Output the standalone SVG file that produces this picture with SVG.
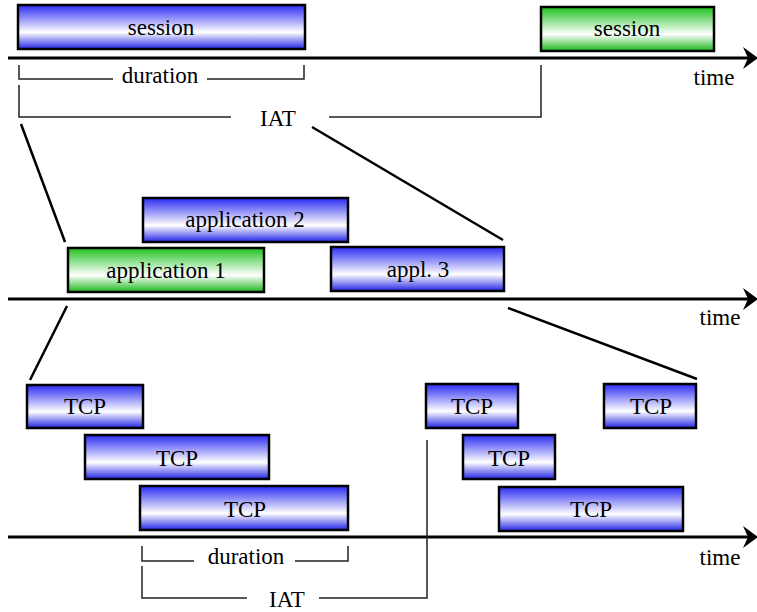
<svg xmlns="http://www.w3.org/2000/svg" width="757" height="612" viewBox="0 0 757 612" font-family="'Liberation Serif', 'DejaVu Serif', serif">
  <defs>
    <linearGradient id="gBlue" x1="0" y1="0" x2="0" y2="1">
      <stop offset="0" stop-color="#2b2bf2"/>
      <stop offset="0.62" stop-color="#ffffff"/>
      <stop offset="1" stop-color="#2424e6"/>
    </linearGradient>
    <linearGradient id="gGreen" x1="0" y1="0" x2="0" y2="1">
      <stop offset="0" stop-color="#1fc21f"/>
      <stop offset="0.62" stop-color="#ffffff"/>
      <stop offset="1" stop-color="#1ab81a"/>
    </linearGradient>
    <path id="arrowHead" d="M-15,-11 L0,0 L-15,11 L-10,0 Z" fill="#000"/>
  </defs>
  <style>
    .box { stroke: #000; stroke-width: 2.5; }
    .blue { fill: url(#gBlue); }
    .green { fill: url(#gGreen); }
    .lbl { font-family: 'Liberation Serif', 'DejaVu Serif', serif; font-size: 23px; fill: #000; text-anchor: middle; }
    .axis { stroke: #000; stroke-width: 3; fill: none; }
    .bracket { stroke: #222; stroke-width: 1.5; fill: none; }
    .zoomline { stroke: #000; stroke-width: 2.5; fill: none; }
  </style>

  <rect width="757" height="612" fill="#fff"/>

  <!-- time axes -->
  <g id="axes">
    <line class="axis" x1="8" y1="58" x2="748" y2="58"/>
    <use href="#arrowHead" x="758" y="58"/>
    <text class="lbl" x="714" y="85">time</text>

    <line class="axis" x1="8" y1="299" x2="748" y2="299"/>
    <use href="#arrowHead" x="758" y="299"/>
    <text class="lbl" x="720" y="325">time</text>

    <line class="axis" x1="8" y1="537" x2="748" y2="537"/>
    <use href="#arrowHead" x="758" y="537"/>
    <text class="lbl" x="720" y="565">time</text>
  </g>

  <!-- session level -->
  <g id="session1">
    <rect class="box blue" x="18" y="5" width="287" height="44"/>
    <text class="lbl" x="161" y="35">session</text>
  </g>
  <g id="session2">
    <rect class="box green" x="541" y="7" width="173" height="44"/>
    <text class="lbl" x="627" y="36">session</text>
  </g>

  <!-- application level -->
  <g id="app2">
    <rect class="box blue" x="143" y="198" width="205" height="44"/>
    <text class="lbl" x="245" y="227">application 2</text>
  </g>
  <g id="app1">
    <rect class="box green" x="68" y="248" width="196" height="44"/>
    <text class="lbl" x="166" y="278">application 1</text>
  </g>
  <g id="app3">
    <rect class="box blue" x="331" y="247" width="173" height="44"/>
    <text class="lbl" x="418" y="277">appl. 3</text>
  </g>

  <!-- TCP level -->
  <g id="tcp1">
    <rect class="box blue" x="27" y="385" width="116" height="43"/>
    <text class="lbl" x="85" y="414">TCP</text>
  </g>
  <g id="tcp2">
    <rect class="box blue" x="85" y="435" width="184" height="44"/>
    <text class="lbl" x="177" y="466">TCP</text>
  </g>
  <g id="tcp3">
    <rect class="box blue" x="140" y="486" width="208" height="44"/>
    <text class="lbl" x="245" y="517">TCP</text>
  </g>
  <g id="tcp4">
    <rect class="box blue" x="426" y="384" width="92" height="44"/>
    <text class="lbl" x="472" y="414">TCP</text>
  </g>
  <g id="tcp5">
    <rect class="box blue" x="463" y="435" width="92" height="44"/>
    <text class="lbl" x="509" y="466">TCP</text>
  </g>
  <g id="tcp6">
    <rect class="box blue" x="604" y="384" width="92" height="44"/>
    <text class="lbl" x="651" y="414">TCP</text>
  </g>
  <g id="tcp7">
    <rect class="box blue" x="499" y="487" width="184" height="44"/>
    <text class="lbl" x="591" y="517">TCP</text>
  </g>

  <!-- measurement brackets and zoom connectors -->
  <g id="connectors">
    <!-- session duration / IAT -->
    <path class="bracket" d="M19,65 V79 H113 M207,79 H304 V65"/>
    <text class="lbl" x="160" y="83">duration</text>
    <path class="bracket" d="M19,85 V117 H231 M329,117 H541 V65"/>
    <text class="lbl" x="278" y="126">IAT</text>

    <!-- TCP duration / IAT -->
    <path class="bracket" d="M142,546 V561 H194 M295,561 H348 V546"/>
    <text class="lbl" x="246" y="564">duration</text>
    <path class="bracket" d="M142,566 V598 H247 M319,598 H427 V440"/>
    <text class="lbl" x="287" y="607">IAT</text>

    <!-- zoom-in lines between levels -->
    <line class="zoomline" x1="21" y1="124" x2="65" y2="242"/>
    <line class="zoomline" x1="312" y1="127" x2="503" y2="240"/>
    <line class="zoomline" x1="67" y1="306" x2="30" y2="380"/>
    <line class="zoomline" x1="508" y1="308" x2="697" y2="379"/>
  </g>
</svg>
